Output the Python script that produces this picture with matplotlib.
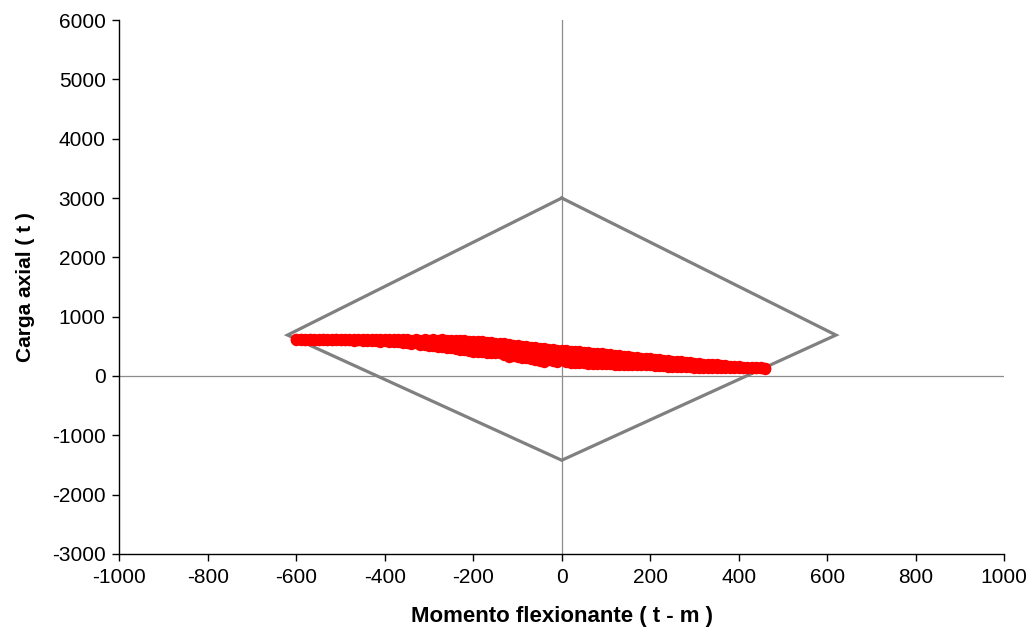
import matplotlib
matplotlib.use("Agg")
import matplotlib.pyplot as plt

plt.rcParams['font.family'] = ['Liberation Sans', 'DejaVu Sans']
plt.rcParams['axes.unicode_minus'] = False

# Interaction diagram (diamond)
diamond_m = [0, 620, 0, -620, 0]
diamond_p = [3000, 690, -1420, 690, 3000]

# Scatter band: moment values and upper / middle / lower axial loads
m_vals = [-600, -590, -580, -570, -560, -550, -540, -530, -520, -510,
          -500, -490, -480, -470, -460, -450, -440, -430, -420, -410,
          -400, -390, -380, -370, -360, -350, -340, -330, -320, -310,
          -300, -290, -280, -270, -260, -250, -240, -230, -220, -210,
          -200, -190, -180, -170, -160, -150, -140, -130, -120, -110,
          -100, -90, -80, -70, -60, -50, -40, -30, -20, -10,
          0, 10, 20, 30, 40, 50, 60, 70, 80, 90,
          100, 110, 120, 130, 140, 150, 160, 170, 180, 190,
          200, 210, 220, 230, 240, 250, 260, 270, 280, 290,
          300, 310, 320, 330, 340, 350, 360, 370, 380, 390,
          400, 410, 420, 430, 440, 450, 460]
p_top = [625, 625, 620, 625, 625, 622, 625, 625, 622, 625,
         625, 622, 625, 625, 625, 622, 625, 622, 625, 622,
         620, 625, 620, 618, 622, 618, 615, 622, 615, 620,
         615, 622, 612, 620, 612, 608, 615, 600, 605, 595,
         592, 585, 590, 572, 568, 562, 556, 548, 540, 528,
         518, 505, 500, 490, 482, 470, 468, 455, 452, 445,
         440, 435, 428, 420, 418, 410, 405, 395, 390, 385,
         375, 370, 360, 352, 342, 332, 325, 316, 310, 305,
         300, 290, 285, 275, 266, 260, 250, 245, 240, 230,
         225, 220, 210, 205, 200, 195, 190, 185, 176, 170,
         165, 160, 160, 155, 150, 148, 138]
p_mid = [618, 616, 612, 618, 615, 612, 616, 614, 612, 616,
         612, 610, 614, 608, 612, 606, 610, 602, 608, 598,
         602, 596, 592, 590, 585, 582, 576, 578, 566, 570,
         560, 558, 548, 550, 535, 528, 525, 515, 512, 500,
         495, 488, 478, 470, 462, 455, 448, 430, 420, 425,
         410, 398, 395, 380, 375, 362, 350, 352, 340, 335,
         345, 320, 318, 312, 300, 305, 292, 288, 282, 278,
         270, 268, 262, 255, 250, 248, 240, 236, 232, 238,
         232, 225, 220, 212, 205, 205, 198, 192, 188, 182,
         178, 175, 168, 165, 162, 160, 155, 152, 150, 148,
         145, 142, 142, 140, 138, 136, 132]
p_bot = [612, 606, 604, 610, 602, 606, 608, 600, 604, 610,
         600, 602, 606, 594, 600, 592, 596, 586, 594, 580,
         588, 580, 572, 568, 556, 556, 540, 548, 528, 525,
         512, 505, 495, 488, 470, 465, 448, 440, 432, 418,
         412, 398, 405, 385, 395, 380, 390, 355, 328, 340,
         320, 308, 298, 290, 270, 250, 236, 262, 248, 240,
         265, 232, 218, 226, 218, 216, 208, 205, 198, 200,
         195, 196, 188, 190, 182, 186, 183, 180, 178, 186,
         184, 175, 168, 165, 158, 160, 154, 150, 146, 145,
         140, 142, 135, 136, 134, 136, 130, 132, 130, 130,
         130, 128, 128, 128, 128, 128, 126]

x_ticks = [-1000, -800, -600, -400, -200, 0, 200, 400, 600, 800, 1000]
y_ticks = [-3000, -2000, -1000, 0, 1000, 2000, 3000, 4000, 5000, 6000]

fig = plt.figure(figsize=(10.31, 6.42), dpi=100)
ax = fig.add_axes([0.1159, 0.1371, 0.8579, 0.8317])

ax.axhline(0, color='#8c8c8c', lw=0.9, zorder=1)
ax.axvline(0, color='#8c8c8c', lw=0.9, zorder=1)

ax.plot(diamond_m, diamond_p, color='#808080', lw=2.3, zorder=2, solid_joinstyle='miter')

for series in (p_top, p_mid, p_bot):
    ax.plot(m_vals, series, linestyle='none', marker='o', ms=7.2,
            color='#ff0000', mec='#ff0000', zorder=3)

ax.set_xlim(-1000, 1000)
ax.set_ylim(-3000, 6000)
ax.set_xticks(x_ticks)
ax.set_yticks(y_ticks)
ax.tick_params(direction='out', length=5, width=1, labelsize=15, pad=5, color='black')
for s in ('top', 'right'):
    ax.spines[s].set_visible(False)
for s in ('left', 'bottom'):
    ax.spines[s].set_linewidth(1)
    ax.spines[s].set_color('black')

ax.set_xlabel('Momento flexionante ( t - m )', fontsize=16, fontweight='bold', labelpad=14)
ax.set_ylabel('Carga axial ( t )', fontsize=15, fontweight='bold', labelpad=12)

fig.savefig('out.png', dpi=100)
